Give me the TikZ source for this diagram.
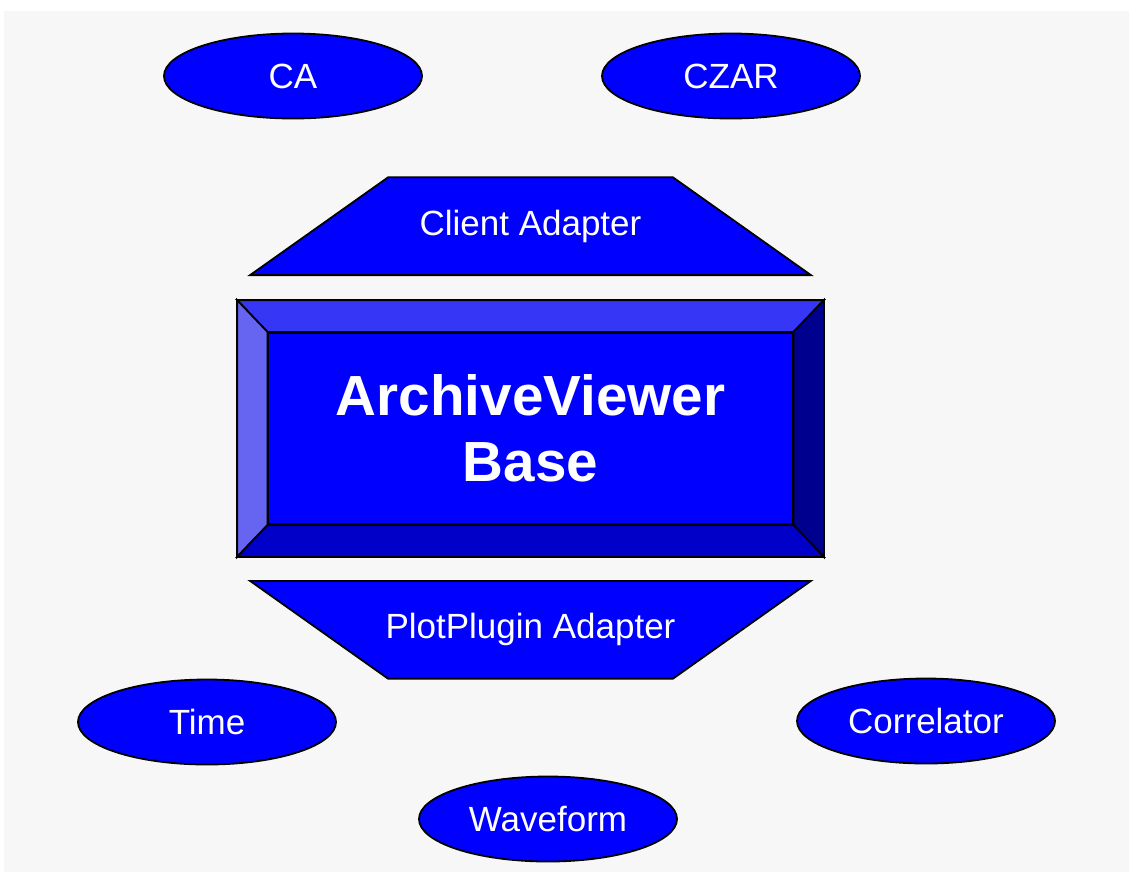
\documentclass[tikz,border=0pt]{standalone}
\usepackage{fontspec}
\setmainfont{Liberation Sans}
\usetikzlibrary{shapes.geometric,positioning,backgrounds}
\definecolor{avpage}{HTML}{F6F7F6}
\definecolor{avblue}{HTML}{0000FF}
\definecolor{avtop}{HTML}{3636F6}
\definecolor{avleft}{HTML}{6565F2}
\definecolor{avright}{HTML}{00008F}
\definecolor{avbottom}{HTML}{0000C8}
\tikzset{
  lbl/.style     = {font=\fontsize{17.5}{21}\selectfont, text=white},
  plug/.style    = {ellipse, draw=black, line width=0.9pt, fill=avblue, lbl,
                    minimum width=129pt, minimum height=42.5pt, inner sep=0pt},
  adapter/.style = {rectangle, lbl, minimum width=280pt, minimum height=48.5pt, inner sep=0pt},
  bevel/.style   = {draw=black, line width=0.9pt, line join=miter},
  core/.style    = {rectangle, draw=black, line width=0.9pt, fill=avblue, text=white,
                    align=center, font=\bfseries\fontsize{28.3}{33}\selectfont},
}

\begin{document}
\begin{tikzpicture}[x=0.5pt, y=0.5pt]

% --- page
\useasboundingbox (0,0) rectangle (1129,-875);

% --- clients
\node[plug] (ca)   at (293,-76) {CA};
\node[plug] (czar) at (731,-76) {CZAR};

% --- base with bevelled frame
\node[core, minimum width=292.5pt, minimum height=127.5pt] (frame) at (530.5,-428.5) {};
\node[core, minimum width=262pt, minimum height=95.5pt] (base) at (frame.center) {ArchiveViewer\\Base};
\filldraw[bevel, fill=avtop] (frame.north west) -- (frame.north east) -- (base.north east) -- (base.north west) -- cycle;
\filldraw[bevel, fill=avleft] (frame.north west) -- (base.north west) -- (base.south west) -- (frame.south west) -- cycle;
\filldraw[bevel, fill=avright] (frame.north east) -- (frame.south east) -- (base.south east) -- (base.north east) -- cycle;
\filldraw[bevel, fill=avbottom] (frame.south west) -- (base.south west) -- (base.south east) -- (frame.south east) -- cycle;

% --- adapters
\node[adapter, above=12.5pt of frame] (client) {Client Adapter};
\node[adapter, below=12pt of frame] (plugin) {PlotPlugin Adapter};

% --- plot plugins
\node[plug] (time) at (207,-722) {Time};
\node[plug] (corr) at (926,-721) {Correlator};
\node[plug] (wave) at (548,-819) {Waveform};

\begin{scope}[on background layer]
  \fill[avpage] (4,-11) rectangle (1129,-872);
  \filldraw[bevel, fill=avblue] (client.south west) -- (client.south east)
    -- ([xshift=-69pt]client.north east) -- ([xshift=69pt]client.north west) -- cycle;
  \filldraw[bevel, fill=avblue] (plugin.north west) -- (plugin.north east)
    -- ([xshift=-69pt]plugin.south east) -- ([xshift=69pt]plugin.south west) -- cycle;
\end{scope}

\end{tikzpicture}
\end{document}
